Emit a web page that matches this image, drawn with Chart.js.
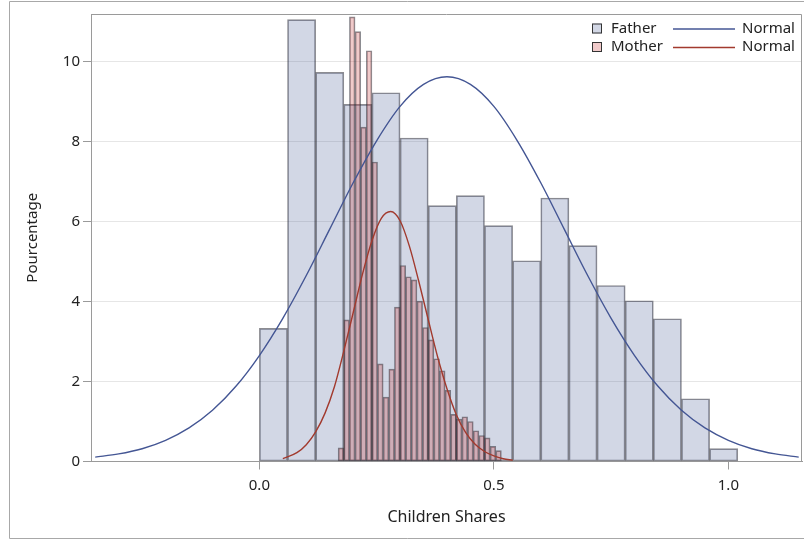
<!DOCTYPE html>
<html>
<head>
<meta charset="utf-8">
<script src="https://cdn.jsdelivr.net/npm/chart.js@4/dist/chart.umd.min.js"></script>
<style>
  html, body { margin: 0; padding: 0; background: #fff; }
  canvas { display: block; }
</style>
</head>
<body>
<canvas id="chart" width="804" height="540"></canvas>
<script>
// histogram bins (midpoints) and percentages
const fatherMids = [0.03, 0.09, 0.15, 0.21, 0.27, 0.33, 0.39, 0.45, 0.51, 0.57, 0.63, 0.69, 0.75, 0.81, 0.87, 0.93, 0.99];
const fatherPct = [3.33, 11.05, 9.73, 8.93, 9.22, 8.09, 6.40, 6.65, 5.90, 5.02, 6.59, 5.40, 4.40, 4.02, 3.57, 1.57, 0.32];

const motherMids = [0.174, 0.186, 0.198, 0.210, 0.222, 0.234, 0.246, 0.258, 0.270, 0.282,
  0.294, 0.306, 0.318, 0.330, 0.342, 0.354, 0.366, 0.378, 0.390, 0.402,
  0.414, 0.426, 0.438, 0.450, 0.462, 0.474, 0.486, 0.498, 0.510];
const motherPct = [0.34, 3.54, 11.12, 10.75, 8.36, 10.27, 7.49, 2.44, 1.61, 2.31,
  3.86, 4.90, 4.62, 4.54, 4.01, 3.35, 3.04, 2.57, 2.27, 1.78,
  1.18, 1.06, 1.12, 1.00, 0.77, 0.65, 0.59, 0.38, 0.27];

// fitted normal curves
const fatherCurveX = [-0.35, -0.30, -0.25, -0.20, -0.15, -0.10, -0.05, 0.00, 0.05, 0.10, 0.15,
  0.20, 0.25, 0.30, 0.35, 0.40, 0.45, 0.50, 0.55, 0.60, 0.65, 0.70, 0.75, 0.80,
  0.85, 0.90, 0.95, 1.00, 1.05, 1.10, 1.15];
const fatherCurveY = [0.11, 0.19, 0.32, 0.53, 0.84, 1.28, 1.88, 2.65, 3.58, 4.65, 5.81,
  6.97, 8.02, 8.88, 9.43, 9.62, 9.43, 8.88, 8.02, 6.97, 5.81, 4.65, 3.58, 2.65,
  1.88, 1.28, 0.84, 0.53, 0.32, 0.19, 0.11];

const motherCurveX = [0.05, 0.08, 0.10, 0.12, 0.14, 0.16, 0.18, 0.20, 0.22, 0.24, 0.26, 0.28,
  0.30, 0.32, 0.34, 0.36, 0.38, 0.40, 0.42, 0.44, 0.46, 0.48, 0.50, 0.52, 0.54];
const motherCurveY = [0.07, 0.22, 0.42, 0.74, 1.21, 1.87, 2.76, 3.72, 4.69, 5.52, 6.08, 6.25,
  6.02, 5.38, 4.50, 3.55, 2.62, 1.82, 1.17, 0.72, 0.43, 0.25, 0.14, 0.07, 0.03];

const yTicks = [0, 2, 4, 6, 8, 10];
const xTicks = [0.0, 0.5, 1.0];

const FONT = '"Noto Sans", "DejaVu Sans", sans-serif';
const fatherFill = 'rgba(68, 86, 148, 0.24)';
const motherFill = 'rgba(200, 60, 60, 0.27)';
const barEdge = 'rgba(45, 45, 55, 0.55)';
const fatherLine = '#445694';
const motherLine = '#A23A2E';
const axisGray = '#9a9a9a';

const pairs = (xs, ys) => xs.map((x, i) => ({ x: x, y: ys[i] }));

// outer frame + plot frame
const frames = {
  id: 'frames',
  beforeDraw(chart) {
    const { ctx, width, height } = chart;
    ctx.save();
    ctx.strokeStyle = '#a8a8a8';
    ctx.lineWidth = 1;
    ctx.beginPath();
    ctx.moveTo(width + 2, 1.5);
    ctx.lineTo(9.5, 1.5);
    ctx.lineTo(9.5, height - 1.5);
    ctx.lineTo(width + 2, height - 1.5);
    ctx.stroke();
    ctx.restore();
  },
  afterDraw(chart) {
    const { ctx, chartArea: a } = chart;
    ctx.save();
    ctx.strokeStyle = axisGray;
    ctx.lineWidth = 1;
    ctx.beginPath();
    ctx.moveTo(Math.round(a.left) + 0.5, Math.round(a.top) + 0.5);
    ctx.lineTo(Math.round(a.right) - 0.5, Math.round(a.top) + 0.5);
    ctx.lineTo(Math.round(a.right) - 0.5, Math.round(a.bottom));
    ctx.stroke();
    ctx.restore();
  }
};

// two-column legend inside the top right corner
const insideLegend = {
  id: 'insideLegend',
  afterDatasetsDraw(chart) {
    const { ctx, chartArea: a } = chart;
    const rows = [
      { fill: fatherFill, line: fatherLine, label: 'Father' },
      { fill: motherFill, line: motherLine, label: 'Mother' }
    ];
    const x0 = a.right - 210;
    ctx.save();
    ctx.font = '15px ' + FONT;
    ctx.textBaseline = 'middle';
    rows.forEach((r, i) => {
      const cy = a.top + 14.5 + i * 18.5;
      ctx.fillStyle = '#fff';
      ctx.fillRect(x0, cy - 5, 10, 10);
      ctx.fillStyle = r.fill;
      ctx.fillRect(x0, cy - 5, 10, 10);
      ctx.strokeStyle = '#333';
      ctx.lineWidth = 1;
      ctx.strokeRect(x0 + 0.5, cy - 4.5, 9, 9);
      ctx.fillStyle = '#222';
      ctx.fillText(r.label, x0 + 19, cy);
      ctx.strokeStyle = r.line;
      ctx.lineWidth = 1.3;
      ctx.beginPath();
      ctx.moveTo(x0 + 81, cy + 0.5);
      ctx.lineTo(x0 + 143, cy + 0.5);
      ctx.stroke();
      ctx.fillText('Normal', x0 + 150, cy);
    });
    ctx.restore();
  }
};

const barDefaults = {
  borderColor: barEdge,
  borderWidth: 1,
  borderSkipped: false,
  barPercentage: 1,
  categoryPercentage: 1,
  grouped: false
};

new Chart(document.getElementById('chart'), {
  type: 'bar',
  data: {
    datasets: [
      {
        type: 'line',
        label: 'Normal',
        data: pairs(motherCurveX, motherCurveY),
        borderColor: motherLine,
        borderWidth: 1.4,
        pointRadius: 0,
        fill: false,
        cubicInterpolationMode: 'monotone',
        order: 0
      },
      {
        type: 'line',
        label: 'Normal',
        data: pairs(fatherCurveX, fatherCurveY),
        borderColor: fatherLine,
        borderWidth: 1.4,
        pointRadius: 0,
        fill: false,
        cubicInterpolationMode: 'monotone',
        order: 1
      },
      Object.assign({
        label: 'Mother',
        data: pairs(motherMids, motherPct),
        xAxisID: 'x2',
        backgroundColor: motherFill,
        order: 2
      }, barDefaults),
      Object.assign({
        label: 'Father',
        data: pairs(fatherMids, fatherPct),
        xAxisID: 'x',
        backgroundColor: fatherFill,
        order: 3
      }, barDefaults)
    ]
  },
  options: {
    responsive: false,
    animation: false,
    layout: { padding: { top: 14, right: 2, left: 0, bottom: 0 } },
    plugins: {
      legend: { display: false },
      tooltip: { enabled: false }
    },
    scales: {
      x: {
        type: 'linear',
        min: -0.359,
        max: 1.157,
        offset: false,
        afterBuildTicks: (scale) => { scale.ticks = xTicks.map(v => ({ value: v })); },
        ticks: {
          maxRotation: 0,
          padding: 7,
          color: '#222',
          font: { family: FONT, size: 15 },
          callback: (v) => Number(v).toFixed(1)
        },
        grid: { offset: false, drawOnChartArea: false, tickLength: 8, tickColor: axisGray },
        border: { color: axisGray },
        title: {
          display: true,
          text: 'Children Shares',
          color: '#222',
          font: { family: FONT, size: 16 },
          padding: { top: 0, bottom: 13 }
        },
        afterFit: (scale) => { scale.height = 78.5; }
      },
      x2: {
        type: 'linear',
        min: -0.359,
        max: 1.157,
        offset: false,
        grid: { offset: false },
        display: false
      },
      y: {
        min: 0,
        max: 11.19,
        afterBuildTicks: (scale) => { scale.ticks = yTicks.map(v => ({ value: v })); },
        ticks: {
          padding: 3,
          color: '#222',
          font: { family: FONT, size: 15 }
        },
        grid: { color: '#e6e6e6', tickLength: 8, tickColor: axisGray },
        border: { color: axisGray },
        title: {
          display: true,
          text: 'Pourcentage',
          color: '#222',
          font: { family: FONT, size: 15 },
          padding: { top: 24, bottom: 0 }
        },
        afterFit: (scale) => { scale.width = 91; }
      }
    }
  },
  plugins: [frames, insideLegend]
});
</script>
</body>
</html>
